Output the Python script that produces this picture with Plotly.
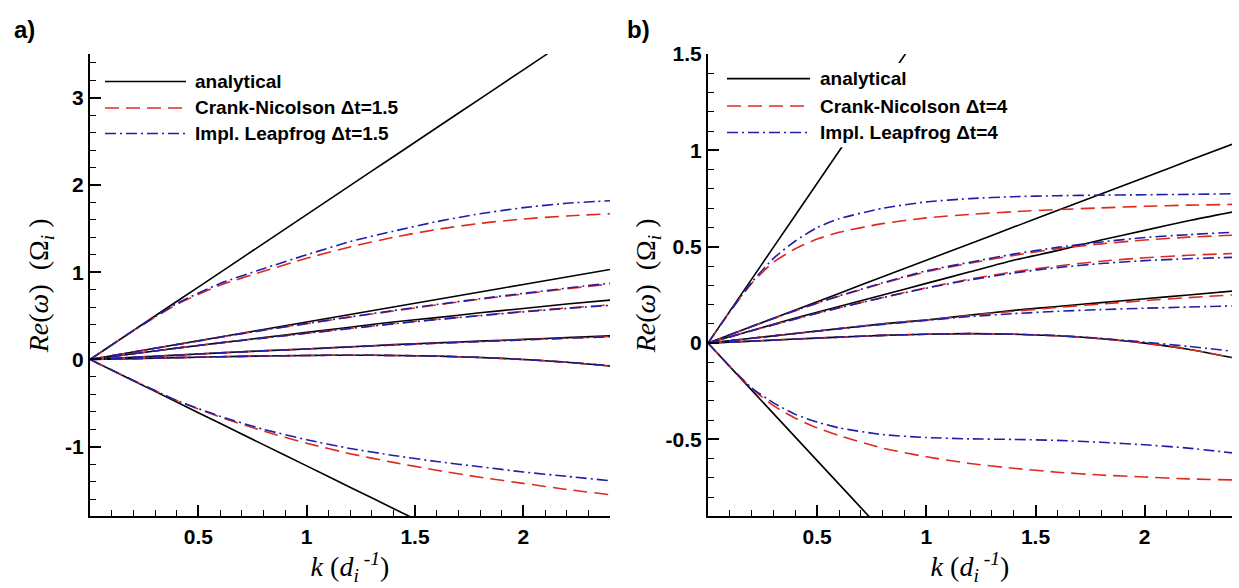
import plotly.graph_objects as go

W, H = 1239, 588

# ---------------- data ----------------
K_A = [0, 0.2, 0.4, 0.6, 0.8, 1.0, 1.2, 1.4, 1.6, 1.8, 2.0, 2.2, 2.4]
K_B = [0, 0.1, 0.2, 0.3, 0.4, 0.5, 0.6, 0.8, 1.0, 1.2, 1.4, 1.6, 1.8, 2.0, 2.2, 2.4]

# analytical branches (same in both panels), sampled on K_A
AN_1 = [0, 0.332, 0.664, 0.996, 1.328, 1.66, 1.992, 2.324, 2.656, 2.988, 3.32, 3.652, 3.984]
AN_2 = [0, 0.086, 0.172, 0.258, 0.344, 0.43, 0.516, 0.602, 0.688, 0.774, 0.86, 0.946, 1.032]
AN_3 = [0, 0.065, 0.13, 0.19, 0.25, 0.31, 0.37, 0.43, 0.48, 0.535, 0.585, 0.635, 0.68]
AN_4 = [0, 0.025, 0.05, 0.075, 0.1, 0.12, 0.145, 0.17, 0.19, 0.21, 0.23, 0.25, 0.27]
AN_5 = [0, 0.010, 0.021, 0.031, 0.040, 0.046, 0.049, 0.046, 0.038, 0.023, 0.0, -0.032, -0.075]
AN_6 = [0, -0.244, -0.488, -0.732, -0.976, -1.22, -1.464, -1.708, -1.952, -2.196, -2.44, -2.684, -2.928]

# panel a) Crank-Nicolson dt=1.5, on K_A
CN_A1 = [0, 0.33, 0.63, 0.85, 1.01, 1.16, 1.29, 1.4, 1.49, 1.56, 1.61, 1.645, 1.67]
CN_A2 = [0, 0.086, 0.17, 0.255, 0.335, 0.41, 0.485, 0.555, 0.625, 0.69, 0.75, 0.81, 0.865]
CN_A3 = [0, 0.065, 0.13, 0.19, 0.245, 0.3, 0.355, 0.41, 0.46, 0.505, 0.55, 0.59, 0.625]
CN_A4 = [0, 0.025, 0.05, 0.075, 0.098, 0.12, 0.143, 0.165, 0.185, 0.205, 0.225, 0.244, 0.262]
CN_A5 = [0, 0.010, 0.021, 0.031, 0.040, 0.046, 0.049, 0.046, 0.038, 0.023, 0.0, -0.032, -0.075]
CN_A6 = [0, -0.24, -0.47, -0.66, -0.82, -0.96, -1.08, -1.18, -1.27, -1.35, -1.42, -1.49, -1.55]

# panel a) Implicit Leapfrog dt=1.5, on K_A
LF_A1 = [0, 0.33, 0.64, 0.87, 1.04, 1.2, 1.35, 1.47, 1.58, 1.67, 1.74, 1.79, 1.82]
LF_A2 = [0, 0.086, 0.17, 0.255, 0.336, 0.413, 0.488, 0.56, 0.63, 0.696, 0.758, 0.818, 0.875]
LF_A3 = [0, 0.065, 0.13, 0.19, 0.245, 0.3, 0.354, 0.408, 0.457, 0.502, 0.545, 0.585, 0.62]
LF_A4 = [0, 0.025, 0.05, 0.075, 0.098, 0.12, 0.143, 0.165, 0.185, 0.205, 0.224, 0.243, 0.26]
LF_A5 = [0, 0.010, 0.021, 0.031, 0.040, 0.046, 0.049, 0.046, 0.038, 0.023, 0.0, -0.031, -0.072]
LF_A6 = [0, -0.24, -0.47, -0.65, -0.8, -0.92, -1.02, -1.1, -1.17, -1.23, -1.29, -1.34, -1.39]

# panel b) Crank-Nicolson dt=4, on K_B
CN_B1 = [0, 0.163, 0.31, 0.42, 0.49, 0.54, 0.575, 0.62, 0.65, 0.668, 0.682, 0.693, 0.702, 0.71, 0.716, 0.72]
CN_B2 = [0, 0.043, 0.086, 0.128, 0.168, 0.207, 0.243, 0.31, 0.37, 0.415, 0.455, 0.49, 0.515, 0.535, 0.55, 0.56]
CN_B3 = [0, 0.032, 0.064, 0.095, 0.125, 0.155, 0.183, 0.237, 0.287, 0.332, 0.37, 0.4, 0.425, 0.443, 0.456, 0.465]
CN_B4 = [0, 0.0125, 0.025, 0.0375, 0.05, 0.062, 0.075, 0.1, 0.12, 0.143, 0.165, 0.185, 0.203, 0.22, 0.236, 0.25]
CN_B5 = [0, 0.005, 0.010, 0.015, 0.021, 0.026, 0.031, 0.040, 0.046, 0.049, 0.046, 0.038, 0.023, 0.0, -0.032, -0.075]
CN_B6 = [0, -0.122, -0.235, -0.325, -0.39, -0.44, -0.48, -0.545, -0.59, -0.625, -0.65, -0.67, -0.685, -0.695, -0.705, -0.71]

# panel b) Implicit Leapfrog dt=4, on K_B
LF_B1 = [0, 0.163, 0.315, 0.44, 0.53, 0.6, 0.645, 0.70, 0.733, 0.75, 0.76, 0.765, 0.768, 0.77, 0.772, 0.775]
LF_B2 = [0, 0.043, 0.086, 0.128, 0.169, 0.208, 0.245, 0.313, 0.375, 0.42, 0.462, 0.497, 0.525, 0.548, 0.563, 0.575]
LF_B3 = [0, 0.032, 0.064, 0.095, 0.125, 0.155, 0.183, 0.236, 0.285, 0.328, 0.364, 0.392, 0.413, 0.428, 0.438, 0.445]
LF_B4 = [0, 0.0125, 0.025, 0.0375, 0.05, 0.062, 0.074, 0.097, 0.118, 0.138, 0.153, 0.165, 0.174, 0.181, 0.187, 0.193]
LF_B5 = [0, 0.005, 0.010, 0.015, 0.021, 0.026, 0.031, 0.040, 0.046, 0.049, 0.046, 0.039, 0.025, 0.005, -0.017, -0.042]
LF_B6 = [0, -0.122, -0.232, -0.31, -0.37, -0.41, -0.44, -0.475, -0.49, -0.497, -0.5, -0.505, -0.515, -0.528, -0.545, -0.57]

X_TICKS = [0.5, 1, 1.5, 2]
X_LABELS = ["0.5", "1", "1.5", "2"]
YA_TICKS = [-1, 0, 1, 2, 3]
YA_LABELS = ["-1", "0", "1", "2", "3"]
YB_TICKS = [-0.5, 0, 0.5, 1, 1.5]
YB_LABELS = ["-0.5", "0", "0.5", "1", "1.5"]

LEG_A = ["analytical", "Crank-Nicolson \u0394t=1.5", "Impl. Leapfrog \u0394t=1.5"]
LEG_B = ["analytical", "Crank-Nicolson \u0394t=4", "Impl. Leapfrog \u0394t=4"]

X_TITLE = "<i>k</i> (<i>d</i><sub><i>i</i></sub><sup><i> -1</i></sup>)"
Y_TITLE = "<i>Re</i>(<i>\u03c9</i>)  (\u03a9<sub><i>i</i></sub> )"

# ---------------- style ----------------
BLACK = "#000000"
RED = "#dd2a20"
BLUE = "#1f1fa8"
DASH_CN = "14px,7px"
DASH_LF = "11px,4px,2px,4px"
SANS = "Liberation Sans"
SERIF = "Liberation Serif"

fig = go.Figure()


def add(x, y, xa, ya, color, dash, width):
    fig.add_trace(go.Scatter(
        x=x, y=y, xaxis=xa, yaxis=ya, mode="lines",
        line=dict(color=color, dash=dash, width=width, shape="spline", smoothing=0.6),
        showlegend=False, hoverinfo="skip"))


for xa, ya in (("x", "y"), ("x2", "y2")):
    for an in (AN_1, AN_2, AN_3, AN_4, AN_5, AN_6):
        add(K_A, an, xa, ya, BLACK, "solid", 1.6)

for cn in (CN_A1, CN_A2, CN_A3, CN_A4, CN_A5, CN_A6):
    add(K_A, cn, "x", "y", RED, DASH_CN, 1.6)
for lf in (LF_A1, LF_A2, LF_A3, LF_A4, LF_A5, LF_A6):
    add(K_A, lf, "x", "y", BLUE, DASH_LF, 1.6)
for cn in (CN_B1, CN_B2, CN_B3, CN_B4, CN_B5, CN_B6):
    add(K_B, cn, "x2", "y2", RED, DASH_CN, 1.6)
for lf in (LF_B1, LF_B2, LF_B3, LF_B4, LF_B5, LF_B6):
    add(K_B, lf, "x2", "y2", BLUE, DASH_LF, 1.6)


def px_x(p):
    return p / W


def px_y(p):
    return 1 - p / H


tickfont = dict(family=SANS, size=21, color="black", weight="bold")
titlefont = dict(family=SERIF, size=28, color="black")


def xaxis(dom, anchor):
    return dict(domain=dom, anchor=anchor, range=[0, 2.4], showgrid=False, zeroline=False,
                showline=True, linecolor="black", linewidth=2, ticks="inside", ticklen=11,
                tickwidth=2, tickcolor="black", tickmode="array", tickvals=X_TICKS,
                ticktext=X_LABELS, tickfont=tickfont,
                title=dict(text=X_TITLE, font=titlefont, standoff=2),
                minor=dict(tickmode="linear", tick0=0, dtick=0.1, ticks="inside", ticklen=6,
                           tickwidth=1, tickcolor="black", showgrid=False))


def yaxis(rng, tv, tt, mdt, anchor, standoff):
    return dict(domain=[px_y(515), px_y(43)], anchor=anchor, range=rng, showgrid=False,
                zeroline=False, showline=True, linecolor="black", linewidth=2, ticks="inside",
                ticklen=11, tickwidth=2, tickcolor="black", tickmode="array", tickvals=tv,
                ticktext=tt, tickfont=tickfont,
                title=dict(text=Y_TITLE, font=titlefont, standoff=standoff),
                minor=dict(tickmode="linear", tick0=0, dtick=mdt, ticks="inside", ticklen=6,
                           tickwidth=1, tickcolor="black", showgrid=False))


XA0, XA1 = 90, 610
XB0, XB1 = 708, 1232

annotations = []
shapes = []

# panel labels
for cx, lab in ((24, "a)"), (638, "b)")):
    annotations.append(dict(x=px_x(cx), y=px_y(18), xref="paper", yref="paper", text=lab,
                            showarrow=False, xanchor="center", yanchor="middle",
                            font=dict(family=SANS, size=24, color="black", weight="bold")))

# legends (drawn as keys + text)
styles = [(BLACK, "solid"), (RED, DASH_CN), (BLUE, DASH_LF)]
shapes.append(dict(type="rect", xref="paper", yref="paper", x0=px_x(716), x1=px_x(922),
                   y0=px_y(138), y1=px_y(52), fillcolor="white", line=dict(width=0),
                   layer="above"))
for (lx0, lx1, tx, rows, labels) in ((105, 186, 193, (71, 98, 124), LEG_A),
                                     (727, 810, 818, (68, 96, 123), LEG_B)):
    for (col, dsh), ry, lab in zip(styles, rows, labels):
        shapes.append(dict(type="line", xref="paper", yref="paper", x0=px_x(lx0), x1=px_x(lx1),
                           y0=px_y(ry), y1=px_y(ry), line=dict(color=col, dash=dsh, width=1.6),
                           layer="above"))
        annotations.append(dict(x=px_x(tx), y=px_y(ry), xref="paper", yref="paper", text=lab,
                                showarrow=False, xanchor="left", yanchor="middle",
                                font=dict(family=SANS, size=19, color="black", weight="bold")))

fig.update_layout(
    width=W, height=H, margin=dict(l=0, r=0, t=0, b=0),
    paper_bgcolor="white", plot_bgcolor="white", showlegend=False,
    font=dict(family=SANS, size=19, color="black"),
    xaxis=xaxis([px_x(XA0), px_x(XA1)], "y"),
    yaxis=yaxis([-1.8, 3.5], YA_TICKS, YA_LABELS, 0.2, "x", 8),
    xaxis2=xaxis([px_x(XB0), px_x(XB1)], "y2"),
    yaxis2=yaxis([-0.9, 1.5], YB_TICKS, YB_LABELS, 0.1, "x2", 2),
    annotations=annotations, shapes=shapes,
)

fig.write_html("out.html")
